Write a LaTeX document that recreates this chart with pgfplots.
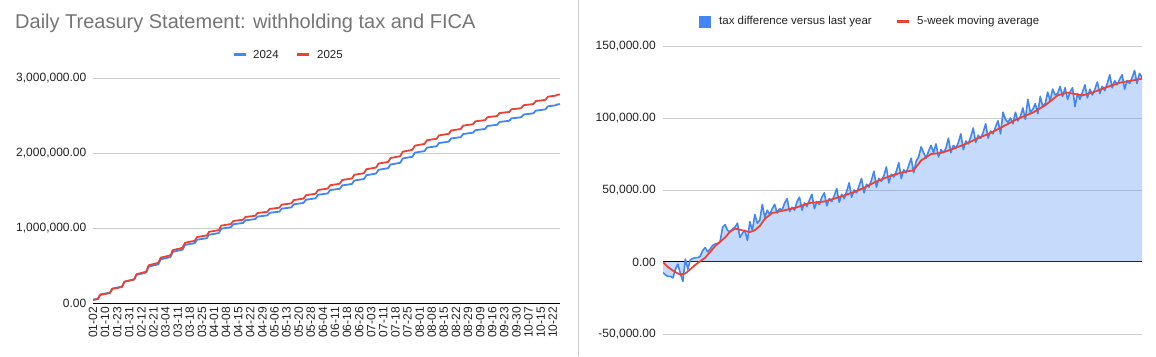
\documentclass[border=0pt]{standalone}
\usepackage{fontspec}
\setmainfont{Liberation Sans}
\usepackage{pgfplots}
\pgfplotsset{compat=1.18}
\usepackage{pgfplotstable}
\definecolor{gblue}{HTML}{4285F4}
\definecolor{gred}{HTML}{EA4335}
\definecolor{ggrid}{HTML}{CCCCCC}
\definecolor{gtitle}{HTML}{757575}
\definecolor{gtext}{HTML}{222222}
\definecolor{gtick}{HTML}{222222}

\pgfplotstableread{
i a b
0 45000 40000
2 57000 52000
3 114000 108000
5 126000 120000
7 138000 132000
8 193000 188000
10 205000 200000
12 219000 215000
13 284000 285000
15 298000 300000
17 312000 315000
18 376000 385000
20 390000 400000
22 407000 418000
23 484000 502000
25 501000 520000
27 515000 535000
28 583000 605000
30 597000 620000
32 612000 635000
33 682000 705000
35 697000 720000
37 711000 735000
38 774000 802000
40 787000 817000
42 797000 828000
43 844000 879000
45 854000 890000
47 864000 900000
48 911000 950000
50 921000 960000
52 933000 972000
53 990000 1031000
55 1002000 1043000
57 1011000 1052000
58 1050000 1093000
60 1059000 1102000
62 1067000 1110000
63 1102000 1147000
65 1110000 1155000
67 1118000 1163000
68 1152000 1200000
70 1160000 1208000
72 1168000 1216000
73 1202000 1254000
75 1210000 1262000
77 1218000 1271000
78 1258000 1311000
80 1266000 1320000
82 1275000 1329000
83 1316000 1373000
85 1325000 1382000
87 1334000 1392000
88 1377000 1437000
90 1386000 1447000
92 1396000 1457000
93 1442000 1506000
95 1452000 1516000
97 1461000 1526000
98 1505000 1570000
100 1514000 1580000
102 1523000 1590000
103 1568000 1640000
105 1577000 1650000
107 1587000 1660000
108 1633000 1710000
110 1643000 1720000
112 1654000 1731000
113 1704000 1784000
115 1715000 1795000
117 1726000 1806000
118 1776000 1859000
120 1787000 1870000
122 1798000 1881000
123 1847000 1934000
125 1858000 1945000
127 1870000 1958000
128 1927000 2017000
130 1939000 2030000
132 1950000 2042000
133 2004000 2098000
135 2015000 2110000
137 2025000 2120000
138 2071000 2170000
140 2081000 2180000
142 2090000 2190000
143 2133000 2235000
145 2142000 2245000
147 2151000 2255000
148 2194000 2300000
150 2203000 2310000
152 2212000 2320000
153 2253000 2365000
155 2262000 2375000
157 2270000 2383000
158 2304000 2422000
160 2312000 2430000
162 2320000 2438000
163 2360000 2477000
165 2368000 2485000
167 2376000 2493000
168 2414000 2532000
170 2422000 2540000
172 2429000 2547000
173 2462000 2583000
175 2469000 2590000
177 2477000 2598000
178 2513000 2637000
180 2521000 2645000
182 2529000 2653000
183 2565000 2692000
185 2573000 2700000
187 2582000 2709000
188 2622000 2751000
190 2631000 2760000
191 2634000 2763000
192 2648000 2777000
193 2652000 2780000
}\leftdata

\pgfplotstableread{
i v
0 -7400
1 -9000
2 -10000
3 -10000
4 -11000
5 -5000
6 -1500
7 -8000
8 -13500
9 2000
10 -5000
11 1500
12 2500
13 3000
14 3000
15 4000
16 8000
17 10000
18 7000
19 9000
20 11500
21 12500
22 13000
23 14000
24 24000
25 26000
26 22000
27 21000
28 23000
29 24000
30 27000
31 17000
32 20000
33 22000
34 15000
35 28000
36 22000
37 33000
38 27000
39 29000
40 40000
41 31000
42 36000
43 33000
44 37000
45 40000
46 34000
47 37000
48 36000
49 41000
50 44000
51 35000
52 38000
53 36000
54 42000
55 45000
56 36000
57 41000
58 38500
59 43000
60 47000
61 37000
62 42000
63 40000
64 45000
65 48000
66 39000
67 44000
68 42000
69 46000
70 51000
71 41500
72 47000
73 44000
74 49000
75 55000
76 45000
77 50000
78 48000
79 53000
80 58000
81 48000
82 54000
83 52000
84 57000
85 63000
86 52000
87 58000
88 56000
89 60000
90 66000
91 55000
92 61000
93 59000
94 63000
95 69000
96 58000
97 64000
98 62000
99 67000
100 72000
101 62000
102 70000
103 73000
104 80000
105 76000
106 72000
107 77000
108 81000
109 76000
110 82000
111 73000
112 78000
113 76000
114 79000
115 86000
116 76000
117 81000
118 79000
119 83000
120 89000
121 78000
122 84000
123 82000
124 87000
125 93000
126 83000
127 88000
128 86000
129 90000
130 96000
131 86000
132 91000
133 89000
134 94000
135 98000
136 89000
137 104000
138 99000
139 97000
140 100000
141 96000
142 104000
143 98000
144 101000
145 107000
146 99000
147 113000
148 104000
149 106000
150 110000
151 103000
152 115000
153 108000
154 110000
155 118000
156 112000
157 120000
158 116000
159 117000
160 122000
161 115000
162 121000
163 113000
164 118000
165 121000
166 108000
167 117000
168 113000
169 118000
170 123000
171 114000
172 120000
173 116000
174 120000
175 125000
176 117000
177 122000
178 119000
179 124000
180 130000
181 121000
182 126000
183 123000
184 127000
185 130000
186 120000
187 126000
188 124000
189 128000
190 133000
191 124000
192 131000
193 128000
}\bluedata

\pgfplotstableread{
i v
0 0
2 -3500
4 -6000
6 -8000
7 -8700
9 -8000
11 -5000
13 -2000
15 500
17 3000
19 7000
21 11000
23 14000
25 17000
27 21000
29 23200
31 22500
33 21500
35 20800
37 22000
39 25000
41 30000
44 34000
48 35500
54 38000
59 41000
65 42000
70 44500
76 48000
81 51500
86 56000
92 60000
97 62500
101 63700
104 70500
108 75000
112 75700
116 78000
122 82000
127 86000
132 89600
138 95000
143 99500
149 103700
154 108800
159 115700
163 117600
169 115700
173 117600
178 121000
184 124500
189 126000
193 127300
}\reddata

\begin{document}
\begin{tikzpicture}
\path[use as bounding box] (0pt,0pt) rectangle (1156pt,356pt);
\draw[ggrid, line width=1pt] (578pt,0pt) -- (578pt,356pt);

\node[anchor=base west, text=gtitle, font=\fontsize{20}{22}\selectfont, inner sep=0pt] at (15pt,327pt) {Daily Treasury Statement: withholding tax and FICA};

% left legend
\fill[gblue] (234pt,299.5pt) rectangle (246pt,302.5pt);
\node[anchor=west, text=gtext, font=\fontsize{11.5}{13}\selectfont, inner sep=0pt] at (253pt,301pt) {2024};
\fill[gred] (297pt,299.5pt) rectangle (309pt,302.5pt);
\node[anchor=west, text=gtext, font=\fontsize{11.5}{13}\selectfont, inner sep=0pt] at (317pt,301pt) {2025};

% right legend
\fill[gblue] (699pt,328pt) rectangle (711pt,340pt);
\node[anchor=west, text=gtext, font=\fontsize{11.5}{13}\selectfont, inner sep=0pt] at (719pt,334pt) {tax difference versus last year};
\fill[gred] (897pt,332.5pt) rectangle (909pt,335.5pt);
\node[anchor=west, text=gtext, font=\fontsize{11.5}{13}\selectfont, inner sep=0pt] at (917pt,334pt) {5-week moving average};

\begin{axis}[
  at={(93pt,53pt)}, anchor=south west, scale only axis,
  width=467pt, height=225pt,
  xmin=0, xmax=193, ymin=0, ymax=3000000,
  scaled y ticks=false,
  axis line style={draw=none},
  major tick length=0pt,
  ymajorgrids, grid style={ggrid, line width=0.8pt},
  ytick={1000000,2000000,3000000},
  yticklabels={{1,000,000.00},{2,000,000.00},{3,000,000.00}},
  extra y ticks={0}, extra y tick labels={{0.00}},
  extra y tick style={grid style={black, line width=1pt}},
  yticklabel style={font=\fontsize{12}{14}\selectfont, text=gtick, inner sep=0pt, xshift=-6.5pt},
  xtick={0,5,...,190},
  xticklabels={01-02,01-10,01-23,01-31,02-12,02-21,03-04,03-11,03-18,03-25,04-01,04-08,04-15,04-22,04-29,05-06,05-13,05-20,05-28,06-04,06-11,06-18,06-26,07-03,07-11,07-18,07-25,08-01,08-08,08-15,08-22,08-29,09-09,09-16,09-23,09-30,10-07,10-15,10-22},
  xticklabel style={rotate=90, anchor=east, font=\fontsize{12}{14}\selectfont, text=gtick, inner xsep=4pt, inner ysep=0pt},
]
\addplot[gblue, line width=1.8pt, line join=round] table[x=i, y=a] {\leftdata};
\addplot[gred, line width=1.8pt, line join=round] table[x=i, y=b] {\leftdata};
\end{axis}

\begin{axis}[
  at={(663pt,22pt)}, anchor=south west, scale only axis,
  width=479pt, height=288pt,
  xmin=0, xmax=193, ymin=-50000, ymax=150000,
  scaled y ticks=false,
  axis line style={draw=none},
  major tick length=0pt,
  ymajorgrids, grid style={ggrid, line width=0.8pt},
  ytick={-50000,50000,100000,150000},
  yticklabels={{-50,000.00},{50,000.00},{100,000.00},{150,000.00}},
  extra y ticks={0}, extra y tick labels={{0.00}},
  extra y tick style={grid style={black, line width=1pt}},
  yticklabel style={font=\fontsize{12}{14}\selectfont, text=gtick, inner sep=0pt, xshift=-7pt},
  xtick=\empty,
]
\addplot[fill=gblue, fill opacity=0.3, draw=none] table[x=i, y=v] {\bluedata} \closedcycle;
\addplot[gblue, line width=1.6pt, line join=round] table[x=i, y=v] {\bluedata};
\addplot[gred, line width=1.8pt, line join=round] table[x=i, y=v] {\reddata};
\end{axis}
\end{tikzpicture}
\end{document}
